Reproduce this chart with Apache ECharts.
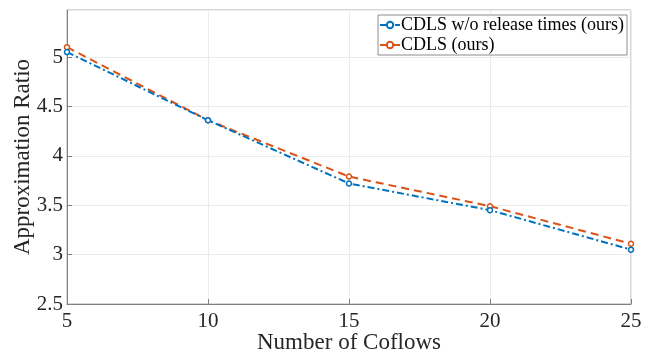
<!DOCTYPE html>
<html>
<head>
<meta charset="utf-8">
<script src="https://cdn.jsdelivr.net/npm/echarts@6/dist/echarts.min.js"></script>
<style>
  html, body { margin: 0; padding: 0; background: #fff; }
  #chart { width: 655px; height: 356px; }
</style>
</head>
<body>
<div id="chart"></div>
<script>
// Number of coflows on the x axis
const coflows = [5, 10, 15, 20, 25];
// Approximation ratio per algorithm
const noReleaseRatio = [5.05, 4.36, 3.72, 3.45, 3.05];
const cdlsRatio = [5.10, 4.36, 3.79, 3.49, 3.11];
const seriesNames = ['CDLS w/o release times (ours)', 'CDLS (ours)'];

const font = 'Liberation Serif, Times New Roman, serif';
const axisColor = '#808080';

const chart = echarts.init(document.getElementById('chart'), null, { renderer: 'canvas' });
chart.setOption({
  animation: false,
  backgroundColor: '#fff',
  grid: {
    left: 67, right: 24, top: 10, bottom: 52,
    outerBoundsMode: 'none',
    containLabel: false,
    show: true, borderColor: '#b0b0b0', borderWidth: 1
  },
  legend: {
    right: 28, top: 15,
    orient: 'vertical',
    backgroundColor: '#fff',
    borderColor: '#8c8c8c', borderWidth: 1,
    padding: [1, 3, 1, 1],
    itemGap: 2,
    itemWidth: 20, itemHeight: 8,
    textStyle: { fontFamily: font, fontSize: 18, color: '#000', padding: [0, 0, 0, -4] },
    data: seriesNames
  },
  xAxis: {
    type: 'value',
    min: 5, max: 25, interval: 5,
    name: 'Number of Coflows',
    nameLocation: 'middle', nameGap: 27,
    nameMoveOverlap: false,
    nameTextStyle: { fontFamily: font, fontSize: 23, color: '#262626' },
    axisLine: { show: true, lineStyle: { color: axisColor } },
    axisTick: { show: true, inside: true, length: 5, lineStyle: { color: axisColor } },
    axisLabel: { fontFamily: font, fontSize: 21, color: '#262626', margin: 7 },
    splitLine: { show: true, lineStyle: { color: '#ebebeb' } }
  },
  yAxis: {
    type: 'value',
    min: 2.5, max: 5.476, interval: 0.5,
    name: 'Approximation Ratio',
    nameLocation: 'middle', nameGap: 33,
    nameMoveOverlap: false,
    nameTextStyle: { fontFamily: font, fontSize: 23, color: '#262626' },
    axisLine: { show: true, lineStyle: { color: axisColor } },
    axisTick: { show: true, inside: true, length: 5, lineStyle: { color: axisColor } },
    axisLabel: { fontFamily: font, fontSize: 21, color: '#262626', margin: 4, showMaxLabel: false },
    splitLine: { show: true, lineStyle: { color: '#ebebeb' } }
  },
  series: [
    {
      name: seriesNames[0],
      type: 'line',
      data: coflows.map((x, i) => [x, noReleaseRatio[i]]),
      symbol: 'circle', symbolSize: 5,
      itemStyle: { color: '#fff', borderColor: '#0072BD', borderWidth: 1.5 },
      lineStyle: { color: '#0072BD', width: 2, type: [7, 3, 2, 3] },
      z: 3
    },
    {
      name: seriesNames[1],
      type: 'line',
      data: coflows.map((x, i) => [x, cdlsRatio[i]]),
      symbol: 'circle', symbolSize: 5,
      itemStyle: { color: '#fff', borderColor: '#D95319', borderWidth: 1.5 },
      lineStyle: { color: '#D95319', width: 2, type: [8, 5] },
      z: 2
    }
  ]
});
</script>
</body>
</html>
